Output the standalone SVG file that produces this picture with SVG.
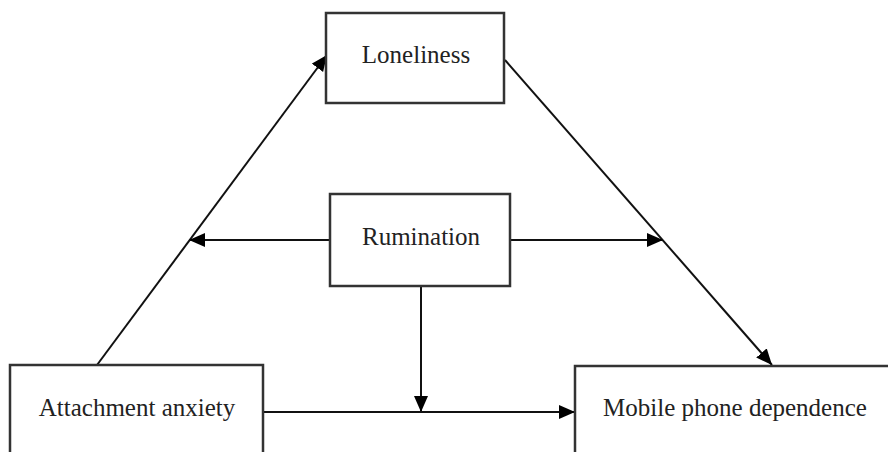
<svg xmlns="http://www.w3.org/2000/svg" width="888" height="452" viewBox="0 0 888 452">
<style>
.box{fill:#fff;stroke:#333;stroke-width:2.5}
.lbl{font-family:"Liberation Serif","Times New Roman",serif;font-size:25px;fill:#222;text-anchor:middle}
.edge{stroke:#111;stroke-width:2;fill:none;marker-end:url(#arr)}
</style>
<defs>
<marker id="arr" markerUnits="userSpaceOnUse" markerWidth="17" markerHeight="15" refX="16" refY="7" orient="auto">
<path d="M0,0 L16,7 L0,14 z" fill="#000"/>
</marker>
</defs>
<rect width="888" height="452" fill="#fff"/>
<g id="connectors">
<line class="edge" x1="97" y1="365" x2="327" y2="55"/>
<line class="edge" x1="505" y1="60" x2="772" y2="365"/>
<line class="edge" x1="330" y1="240" x2="189" y2="240"/>
<line class="edge" x1="510" y1="240" x2="663" y2="240"/>
<line class="edge" x1="421" y1="286" x2="421" y2="412"/>
<line class="edge" x1="263" y1="412" x2="575" y2="412"/>
</g>
<g id="loneliness">
<rect class="box" x="326" y="13" width="178" height="90"/>
<text class="lbl" x="416" y="63">Loneliness</text>
</g>
<g id="rumination">
<rect class="box" x="330" y="194" width="180" height="92"/>
<text class="lbl" x="421" y="245">Rumination</text>
</g>
<g id="attachment">
<rect class="box" x="10" y="365" width="253" height="100"/>
<text class="lbl" x="137" y="416">Attachment anxiety</text>
</g>
<g id="mobile">
<rect class="box" x="575" y="366" width="330" height="100"/>
<text class="lbl" x="735" y="416">Mobile phone dependence</text>
</g>
</svg>
